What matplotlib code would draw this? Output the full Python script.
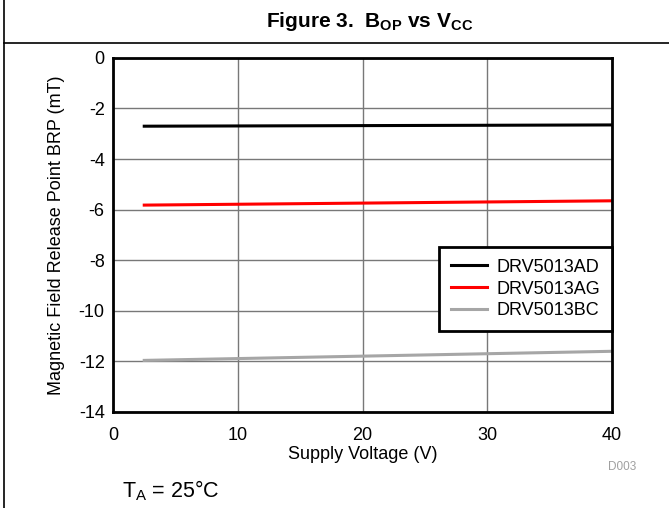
import matplotlib
matplotlib.use("Agg")
import matplotlib.pyplot as plt
from matplotlib.lines import Line2D

plt.rcParams['font.family'] = ['Liberation Sans', 'DejaVu Sans']
plt.rcParams['mathtext.fontset'] = 'custom'
plt.rcParams['mathtext.rm'] = 'Liberation Sans'
plt.rcParams['mathtext.it'] = 'Liberation Sans:italic'
plt.rcParams['mathtext.bf'] = 'Liberation Sans:bold'
plt.rcParams['axes.unicode_minus'] = False

# data
vcc = [2.5, 40]
brp_ad = [-2.70, -2.65]
brp_ag = [-5.82, -5.65]
brp_bc = [-11.96, -11.60]
names = ["DRV5013AD", "DRV5013AG", "DRV5013BC"]
colors = ["#000000", "#ff0000", "#a6a6a6"]

fig = plt.figure(figsize=(6.69, 5.08), dpi=100)
ax = fig.add_axes([0.169, 0.189, 0.746, 0.697])

ax.plot(vcc, brp_ad, color=colors[0], lw=2.2, label=names[0], zorder=3)
ax.plot(vcc, brp_ag, color=colors[1], lw=2.2, label=names[1], zorder=3)
ax.plot(vcc, brp_bc, color=colors[2], lw=2.2, label=names[2], zorder=3)

ax.set_xlim(0, 40)
ax.set_ylim(-14, 0)
ax.set_xticks([0, 10, 20, 30, 40])
ax.set_yticks(range(-14, 1, 2))
ax.tick_params(length=0, labelsize=13)
ax.tick_params(axis="x", pad=11)
ax.tick_params(axis="y", pad=6)
ax.grid(color="#787878", lw=1)
ax.set_axisbelow(True)
for s in ax.spines.values():
    s.set_linewidth(2)
    s.set_zorder(4)

ax.set_xlabel("Supply Voltage (V)", fontsize=13, labelpad=1)
ax.set_ylabel("Magnetic Field Release Point BRP (mT)", fontsize=13, labelpad=10)

leg = ax.legend(loc="upper right", bbox_to_anchor=(1.0, 0.466), fontsize=13,
                fancybox=False, framealpha=1, edgecolor="black",
                borderaxespad=0, handlelength=2.0, handletextpad=0.55,
                labelspacing=0.27, borderpad=0.65)
leg.get_frame().set_linewidth(2)

fig.text(0.552, 0.958, r"Figure 3.  B$_{\bf OP}$ vs V$_{\bf CC}$", ha="center", va="center",
         fontsize=15, fontweight="bold")
fig.text(0.951, 0.081, "D003", ha="right", va="center", fontsize=8.5, color="#a0a0a0")
fig.text(0.182, 0.035, r"T$_{\rm A}$ = 25°C", ha="left", va="center", fontsize=15.5)

# frame lines around the figure panel
fig.add_artist(Line2D([0.006, 0.006], [0, 1], color="black", lw=1.2, transform=fig.transFigure))
fig.add_artist(Line2D([0.006, 1], [0.915, 0.915], color="black", lw=1.2, transform=fig.transFigure))

fig.savefig("out.png", dpi=100)
